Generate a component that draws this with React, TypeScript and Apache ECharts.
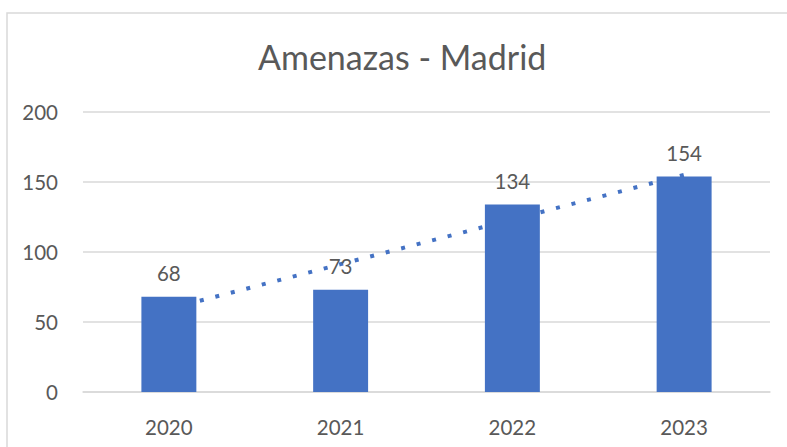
import React, { useEffect, useRef } from "react";
import * as echarts from "echarts";

const categories = ["2020", "2021", "2022", "2023"];
const values = [68, 73, 134, 154];
// linear trendline values at each category
const trend = [59.4, 91.3, 123.2, 155.1];
const yTicks = { min: 0, max: 200, interval: 50 };
const titleText = "Amenazas - Madrid";

const FONT = "Lato, 'Liberation Sans', sans-serif";
const TEXT = "#595959";

export default function App() {
  const ref = useRef<HTMLDivElement>(null);
  useEffect(() => {
    document.body.style.margin = "0";
    const chart = echarts.init(ref.current!, null, { renderer: "svg" });
    chart.setOption({
      animation: false,
      backgroundColor: "#ffffff",
      textStyle: { fontFamily: FONT },
      title: {
        text: titleText,
        left: 258,
        top: 39,
        padding: 0,
        textStyle: { fontFamily: FONT, fontSize: 34, fontWeight: "normal", color: TEXT },
      },
      graphic: [
        {
          type: "rect",
          shape: { x: 7, y: 13, width: 900, height: 600 },
          style: { fill: "none", stroke: "#d9d9d9", lineWidth: 1.5 },
          silent: true,
        },
      ],
      grid: { left: 83, right: 17, top: 112, bottom: 55, containLabel: false },
      xAxis: {
        type: "category",
        data: categories,
        axisLine: { show: true, lineStyle: { color: "#d9d9d9", width: 1.5 } },
        axisTick: { show: false },
        axisLabel: { color: TEXT, fontSize: 20.5, fontFamily: FONT, margin: 24 },
      },
      yAxis: {
        type: "value",
        min: yTicks.min,
        max: yTicks.max,
        interval: yTicks.interval,
        axisLine: { show: false },
        axisTick: { show: false },
        splitLine: { lineStyle: { color: "#d9d9d9", width: 1.5 } },
        axisLabel: { color: TEXT, fontSize: 20.5, fontFamily: FONT, margin: 25 },
      },
      series: [
        {
          type: "line",
          data: trend,
          z: 1,
          symbol: "none",
          lineStyle: { color: "#4472C4", width: 4, type: [4, 12], cap: "butt" },
          silent: true,
        },
        {
          type: "bar",
          data: values,
          z: 2,
          barWidth: "32%",
          itemStyle: { color: "#4472C4" },
          label: {
            show: true,
            position: "top",
            distance: 13,
            color: TEXT,
            fontSize: 20.5,
            fontFamily: FONT,
          },
        },
      ],
    });
    return () => chart.dispose();
  }, []);
  return <div ref={ref} style={{ width: 787, height: 447, position: "absolute", left: 0, top: 0 }} />;
}
